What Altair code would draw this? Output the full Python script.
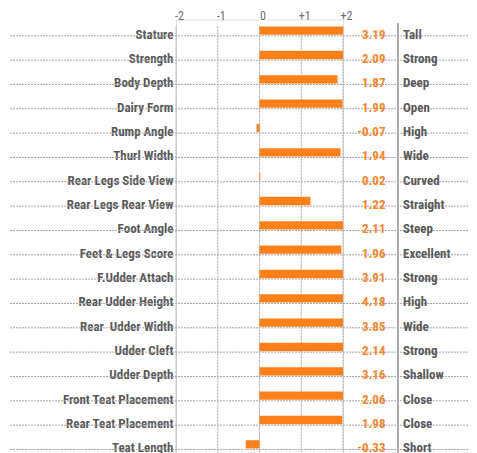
import altair as alt
import pandas as pd

traits = ["Stature", "Strength", "Body Depth", "Dairy Form", "Rump Angle", "Thurl Width",
          "Rear Legs Side View", "Rear Legs Rear View", "Foot Angle", "Feet & Legs Score",
          "F.Udder Attach", "Rear Udder Height", "Rear\u00a0 Udder Width", "Udder Cleft",
          "Udder Depth", "Front Teat Placement", "Rear Teat Placement", "Teat Length"]
values = [3.19, 2.09, 1.87, 1.99, -0.07, 1.94, 0.02, 1.22, 2.11, 1.96,
          3.91, 4.18, 3.85, 2.14, 3.16, 2.06, 1.98, -0.33]
descriptors = ["Tall", "Strong", "Deep", "Open", "High", "Wide", "Curved", "Straight",
               "Steep", "Excellent", "Strong", "High", "Wide", "Strong", "Shallow",
               "Close", "Close", "Short"]
tick_values = [-2, -1, 0, 1, 2]

df = pd.DataFrame({"trait": traits, "value": values, "desc": descriptors})
df["label"] = [f"{v:.2f}" for v in values]
ticks = pd.DataFrame({"t": tick_values})

GREY = "#595959"
AXIS_GREY = "#6E6E6E"
ORANGE = "#FF8019"
VAL_ORANGE = "#FF8426"
GRID = "#A6A6A6"
FONT = "Roboto Condensed, Liberation Sans Narrow, Arial Narrow, Roboto, sans-serif"

W, H = 167, 438

xscale = alt.Scale(domain=[-2, 2], clamp=True, nice=False, zero=False)
yscale = alt.Scale(domain=traits, paddingInner=0.66, paddingOuter=0.33)
yaxis = alt.Axis(title=None, ticks=False, domain=False, labelPadding=3,
                 labelFont=FONT, labelFontSize=13, labelColor=GREY,
                 labelFontWeight="bold", labelOffset=3, labelLimit=300)


def y_enc(**kw):
    return alt.Y("trait:N", scale=yscale, sort=traits, axis=yaxis, **kw)


base = alt.Chart(df)

hlines = base.mark_rule(color=GRID, strokeDash=[2, 1], strokeWidth=1).encode(
    y=y_enc(bandPosition=1),
    x=alt.value(10 - 176), x2=alt.value(477 - 176))

vgrid = alt.Chart(ticks).mark_rule(color=GRID, strokeDash=[2, 1], strokeWidth=1).encode(
    x=alt.X("t:Q", scale=xscale,
            axis=alt.Axis(orient="top", values=tick_values, title=None, ticks=False,
                          domain=False, grid=False, labelPadding=0.5, labelFont=FONT,
                          labelFontSize=12, labelColor=AXIS_GREY, labelOffset=3,
                          labelFlush=False, labelBaseline="alphabetic",
                          labelExpr="datum.value > 0 ? '+' + datum.value : '' + datum.value")),
    y=alt.value(7), y2=alt.value(H))

sep = alt.Chart(ticks).mark_rule(color=GRID, strokeWidth=1).encode(
    x=alt.value(398 - 176), y=alt.value(4), y2=alt.value(H))

bars = base.mark_bar(color=ORANGE, yOffset=-1).encode(
    y=y_enc(),
    x=alt.X("value:Q", scale=xscale),
    x2=alt.datum(0))

vals = base.mark_text(align="right", baseline="middle", font=FONT, fontSize=13,
                      fontWeight="bold", color=VAL_ORANGE, dy=3).encode(
    y=y_enc(),
    x=alt.value(385.5 - 176), text="label:N")

descs = base.mark_text(align="left", baseline="middle", font=FONT, fontSize=13,
                       fontWeight="bold", color=GREY, dy=3).encode(
    y=y_enc(),
    x=alt.value(403 - 176), text="desc:N")

chart = alt.layer(hlines, vgrid, sep, bars, vals, descs).properties(
    width=W, height=H,
    autosize=alt.AutoSizeParams(type="none"),
    padding={"left": 168, "top": 11.5, "right": 126, "bottom": 0},
).configure_view(stroke=None).configure(background="white")

chart.save("out.html", embed_options={"renderer": "svg", "actions": False})
